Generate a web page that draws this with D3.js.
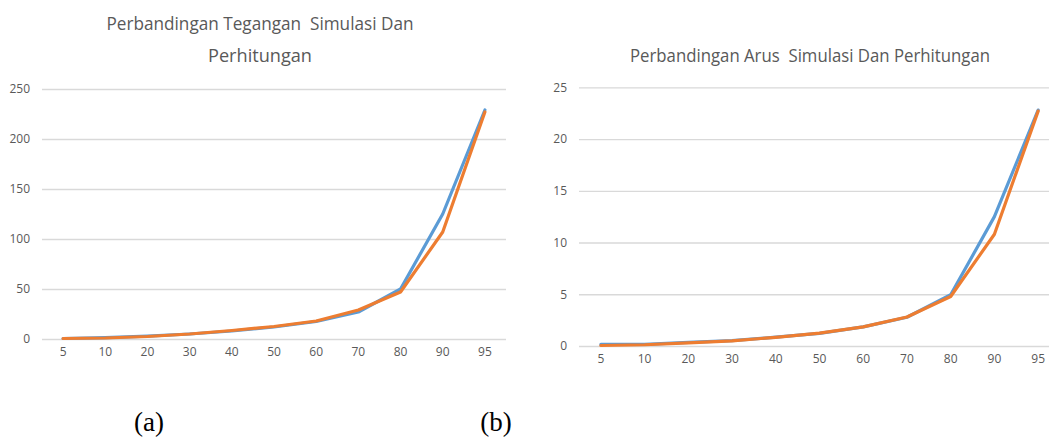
<!DOCTYPE html>
<html>
<head>
<meta charset="utf-8">
<script src="https://cdn.jsdelivr.net/npm/d3@7"></script>
<style>
  html, body { margin: 0; padding: 0; background: #fff; }
  svg { display: block; }
</style>
</head>
<body>
<svg id="fig" width="1049" height="441"></svg>
<script>
// Duty-cycle categories shared by both panels
const categories = ["5", "10", "20", "30", "40", "50", "60", "70", "80", "90", "95"];

// (a) Voltage: simulation vs. calculation
const voltageSim  = [0.5, 1.3, 2.8, 5, 8, 12, 17.5, 27, 50, 125, 229];
const voltageCalc = [0.5, 1.0, 2.5, 5, 8.5, 12.5, 18, 29, 47, 107, 227];
const voltageTicks = [0, 50, 100, 150, 200, 250];

// (b) Current: simulation vs. calculation
const currentSim  = [0.15, 0.15, 0.35, 0.52, 0.85, 1.22, 1.85, 2.78, 4.95, 12.5, 22.8];
const currentCalc = [0.05, 0.12, 0.3, 0.5, 0.84, 1.25, 1.85, 2.8, 4.78, 10.8, 22.7];
const currentTicks = [0, 5, 10, 15, 20, 25];

const svg = d3.select("#fig");
const textColor = "#595959";
const gridColor = "#d9d9d9";
const simColor = "#5B9BD5";
const calcColor = "#ED7D31";
const uiFont = "'Open Sans', sans-serif";

function panel(cfg) {
  const x = d3.scaleBand().domain(categories).range([cfg.left, cfg.right]);
  const y = d3.scaleLinear().domain([0, d3.max(cfg.ticks)]).range([cfg.bottom, cfg.top]);
  const g = svg.append("g");

  // horizontal gridlines
  g.append("g")
    .attr("transform", `translate(${cfg.left},0)`)
    .call(d3.axisLeft(y).tickValues(cfg.ticks).tickSize(-(cfg.right - cfg.left)).tickFormat(""))
    .call(a => a.select(".domain").remove())
    .call(a => a.selectAll("line").attr("stroke", gridColor).attr("stroke-width", 1.3));

  // y tick labels
  g.append("g")
    .attr("transform", `translate(${cfg.left - 12},0)`)
    .call(d3.axisLeft(y).tickValues(cfg.ticks).tickSize(0).tickPadding(0))
    .call(a => a.select(".domain").remove())
    .call(a => a.selectAll("text").attr("fill", textColor)
      .style("font-family", uiFont).style("font-size", "12px"));

  // x tick labels
  g.append("g")
    .attr("transform", `translate(0,${cfg.bottom + 8})`)
    .call(d3.axisBottom(x).tickSize(0).tickPadding(0))
    .call(a => a.select(".domain").remove())
    .call(a => a.selectAll("text").attr("fill", textColor)
      .style("font-family", uiFont).style("font-size", "12px"));

  const line = d3.line()
    .x((d, i) => x(categories[i]) + x.bandwidth() / 2)
    .y(d => y(d));

  g.append("path").datum(cfg.sim)
    .attr("d", line).attr("fill", "none")
    .attr("stroke", simColor).attr("stroke-width", 3.2)
    .attr("stroke-linejoin", "round").attr("stroke-linecap", "round");
  g.append("path").datum(cfg.calc)
    .attr("d", line).attr("fill", "none")
    .attr("stroke", calcColor).attr("stroke-width", 3.2)
    .attr("stroke-linejoin", "round").attr("stroke-linecap", "round");

  // title, one text element per line, fitted to a set width
  cfg.title.forEach((ln, i) => {
    g.append("text")
      .attr("x", cfg.titleX)
      .attr("y", cfg.titleY + i * 31.5)
      .attr("text-anchor", "middle")
      .attr("textLength", cfg.titleWidths[i])
      .attr("lengthAdjust", "spacingAndGlyphs")
      .attr("fill", textColor)
      .style("font-family", uiFont)
      .style("font-size", "19px")
      .style("white-space", "pre")
      .text(ln);
  });

  // caption
  svg.append("text")
    .attr("x", cfg.captionX).attr("y", 431)
    .attr("text-anchor", "middle")
    .attr("fill", "#000")
    .style("font-family", "'Liberation Serif', 'DejaVu Serif', serif")
    .style("font-size", "27px")
    .text(cfg.caption);
}

panel({
  left: 42, right: 506, top: 89, bottom: 339,
  ticks: voltageTicks, sim: voltageSim, calc: voltageCalc,
  title: ["Perbandingan Tegangan  Simulasi Dan", "Perhitungan"],
  titleWidths: [307, 104],
  titleX: 260, titleY: 30,
  caption: "(a)", captionX: 149
});

panel({
  left: 579, right: 1060, top: 87.3, bottom: 346,
  ticks: currentTicks, sim: currentSim, calc: currentCalc,
  title: ["Perbandingan Arus  Simulasi Dan Perhitungan"],
  titleWidths: [360],
  titleX: 810, titleY: 61.5,
  caption: "(b)", captionX: 496
});
</script>
</body>
</html>
